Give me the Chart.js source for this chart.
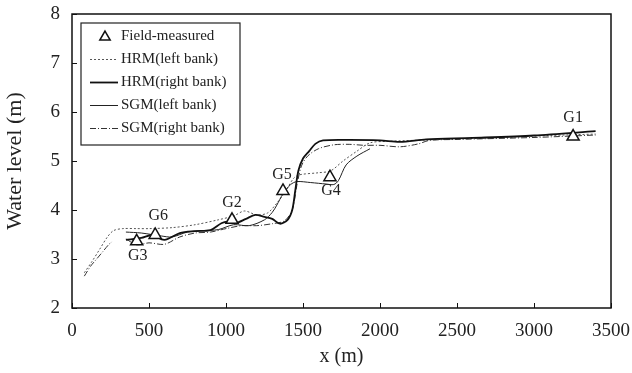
<!DOCTYPE html>
<html>
<head>
<meta charset="utf-8">
<script src="https://cdn.jsdelivr.net/npm/chart.js@4.4.0/dist/chart.umd.min.js"></script>
<style>
  html, body { margin: 0; padding: 0; background: #fff; }
  canvas { display: block; }
</style>
</head>
<body>
<canvas id="chart" width="632" height="373"></canvas>
<script>
// Gauge stations: surveyed water levels
const gaugeNames = ['G1', 'G2', 'G3', 'G4', 'G5', 'G6'];
const gaugeX = [3254, 1039, 420, 1675, 1370, 540];
const gaugeY = [5.50, 3.80, 3.36, 4.67, 4.39, 3.49];

// HRM, left bank
const hrmLeftX = [80, 130, 180, 230, 270, 330, 420, 500, 650, 800, 950, 1050, 1120, 1200, 1270, 1330, 1380, 1440, 1480, 1600, 1680, 1760, 1850, 1935, 2050, 2300, 2700, 3100, 3400];
const hrmLeftY = [2.72, 2.95, 3.20, 3.45, 3.58, 3.62, 3.62, 3.62, 3.64, 3.70, 3.80, 3.88, 3.98, 3.90, 3.94, 4.14, 4.35, 4.65, 4.72, 4.76, 4.80, 5.00, 5.20, 5.37, 5.40, 5.43, 5.47, 5.52, 5.55];

// HRM, right bank
const hrmRightX = [350, 450, 520, 600, 700, 800, 900, 970, 1010, 1060, 1130, 1190, 1250, 1300, 1350, 1400, 1430, 1450, 1470, 1500, 1540, 1580, 1630, 1800, 2000, 2130, 2300, 2600, 3000, 3400];
const hrmRightY = [3.39, 3.43, 3.49, 3.39, 3.53, 3.57, 3.59, 3.73, 3.76, 3.73, 3.82, 3.90, 3.86, 3.82, 3.72, 3.80, 4.00, 4.40, 4.80, 5.05, 5.20, 5.35, 5.42, 5.43, 5.42, 5.39, 5.44, 5.47, 5.52, 5.61];

// SGM, left bank
const sgmLeftX = [350, 450, 580, 650, 750, 850, 950, 1050, 1150, 1250, 1300, 1330, 1370, 1420, 1460, 1550, 1650, 1700, 1730, 1780, 1850, 1935];
const sgmLeftY = [3.55, 3.53, 3.47, 3.45, 3.55, 3.58, 3.60, 3.70, 3.68, 3.80, 3.95, 4.10, 4.33, 4.52, 4.58, 4.56, 4.53, 4.52, 4.60, 4.92, 5.10, 5.25];

// SGM, right bank (null = break in the profile)
const sgmRightX = [80, 120, 160, 200, 240, 260, 300, 350, 420, 500, 600, 700, 800, 900, 1000, 1100, 1200, 1300, 1380, 1430, 1460, 1490, 1530, 1600, 1700, 1800, 1900, 2000, 2130, 2250, 2320, 2500, 3000, 3400];
const sgmRightY = [2.65, 2.85, 3.00, 3.15, 3.30, 3.35, null, 3.41, 3.29, 3.33, 3.30, 3.45, 3.53, 3.55, 3.62, 3.68, 3.68, 3.72, 3.78, 4.00, 4.50, 4.90, 5.10, 5.25, 5.33, 5.34, 5.32, 5.32, 5.29, 5.35, 5.42, 5.44, 5.48, 5.53];

// Axis tick values
const xTicks = [0, 500, 1000, 1500, 2000, 2500, 3000, 3500];
const yTicks = [2, 3, 4, 5, 6, 7, 8];

// Offsets of the station names from their markers (px)
const gaugeLabelOffsets = [[0, -19], [0, -17], [1, 14], [1, 14], [-1, -16], [3, -19]];

const zip = (xs, ys) => xs.map((x, i) => ({ x: x, y: ys[i] }));
const SERIF = '"Liberation Serif", "Times New Roman", serif';

const datasets = [
  {
    label: 'Field-measured',
    data: zip(gaugeX, gaugeY),
    showLine: false,
    pointStyle: 'triangle',
    pointRadius: 7,
    pointBorderWidth: 1.5,
    pointBorderColor: '#111',
    pointBackgroundColor: '#fff',
    order: 0
  },
  {
    label: 'HRM(left bank)',
    data: zip(hrmLeftX, hrmLeftY),
    borderColor: '#555',
    borderWidth: 1,
    borderDash: [2, 2],
    pointRadius: 0,
    tension: 0.3,
    order: 4
  },
  {
    label: 'HRM(right bank)',
    data: zip(hrmRightX, hrmRightY),
    borderColor: '#111',
    borderWidth: 1.8,
    pointRadius: 0,
    tension: 0.3,
    order: 1
  },
  {
    label: 'SGM(left bank)',
    data: zip(sgmLeftX, sgmLeftY),
    borderColor: '#222',
    borderWidth: 1,
    pointRadius: 0,
    tension: 0.3,
    order: 2
  },
  {
    label: 'SGM(right bank)',
    data: zip(sgmRightX, sgmRightY),
    borderColor: '#333',
    borderWidth: 1,
    borderDash: [6, 2, 1, 2],
    pointRadius: 0,
    tension: 0.3,
    spanGaps: false,
    order: 3
  }
];

function triangle(ctx, x, y, r) {
  const a = 2 * Math.PI / 3;
  ctx.beginPath();
  for (let i = 0; i < 3; i++) {
    const ang = i * a;
    const px = x + Math.sin(ang) * r;
    const py = y - Math.cos(ang) * r;
    if (i === 0) ctx.moveTo(px, py); else ctx.lineTo(px, py);
  }
  ctx.closePath();
  ctx.fillStyle = '#fff';
  ctx.fill();
  ctx.lineWidth = 1.5;
  ctx.strokeStyle = '#111';
  ctx.stroke();
}

// Frame, inward ticks, station names and boxed legend
const decorations = {
  id: 'decorations',
  afterDatasetsDraw(chart) {
    const { ctx, chartArea: ca, scales } = chart;
    const xs = scales.x, ys = scales.y;
    ctx.save();

    // plot frame
    ctx.strokeStyle = '#111';
    ctx.lineWidth = 1.5;
    ctx.strokeRect(ca.left, ca.top, ca.right - ca.left, ca.bottom - ca.top);

    // inward tick marks
    ctx.lineWidth = 1;
    ctx.beginPath();
    xTicks.forEach(v => {
      const px = Math.round(xs.getPixelForValue(v)) + 0.5;
      ctx.moveTo(px, ca.bottom);
      ctx.lineTo(px, ca.bottom - 5);
    });
    yTicks.forEach(v => {
      const py = Math.round(ys.getPixelForValue(v)) + 0.5;
      ctx.moveTo(ca.left, py);
      ctx.lineTo(ca.left + 5, py);
    });
    ctx.stroke();

    // station names
    ctx.fillStyle = '#222';
    ctx.font = '16px ' + SERIF;
    ctx.textAlign = 'center';
    ctx.textBaseline = 'middle';
    gaugeNames.forEach((name, i) => {
      const px = xs.getPixelForValue(gaugeX[i]) + gaugeLabelOffsets[i][0];
      const py = ys.getPixelForValue(gaugeY[i]) + gaugeLabelOffsets[i][1];
      ctx.fillText(name, px, py);
    });

    // legend box
    const box = { left: ca.left + 9, top: ca.top + 9, width: 159, height: 122 };
    ctx.fillStyle = '#fff';
    ctx.fillRect(box.left, box.top, box.width, box.height);
    ctx.lineWidth = 1.2;
    ctx.strokeStyle = '#222';
    ctx.strokeRect(box.left, box.top, box.width, box.height);

    ctx.font = '15px ' + SERIF;
    ctx.textAlign = 'left';
    ctx.textBaseline = 'middle';
    const rowH = 23;
    const sx0 = box.left + 9, sx1 = box.left + 37, tx = box.left + 40;
    chart.data.datasets.forEach((ds, i) => {
      const y = box.top + 13 + i * rowH;
      if (ds.showLine === false) {
        triangle(ctx, (sx0 + sx1) / 2 + 1, y + 1, 6);
      } else {
        ctx.beginPath();
        ctx.setLineDash(ds.borderDash || []);
        ctx.lineWidth = ds.borderWidth;
        ctx.strokeStyle = ds.borderColor;
        ctx.moveTo(sx0, y + 0.5);
        ctx.lineTo(sx1, y + 0.5);
        ctx.stroke();
        ctx.setLineDash([]);
      }
      ctx.fillStyle = '#222';
      ctx.fillText(ds.label, tx, y);
    });
    ctx.restore();
  }
};

new Chart(document.getElementById('chart'), {
  type: 'line',
  data: { datasets: datasets },
  plugins: [decorations],
  options: {
    responsive: false,
    animation: false,
    devicePixelRatio: 1,
    layout: { padding: { top: 14, right: 21, left: 0, bottom: 0 } },
    plugins: { legend: { display: false }, tooltip: { enabled: false } },
    scales: {
      x: {
        type: 'linear',
        min: 0,
        max: 3500,
        afterBuildTicks: s => { s.ticks = xTicks.map(v => ({ value: v })); },
        afterFit: s => { s.height = 65; s.paddingLeft = 0; s.paddingRight = 0; },
        grid: { display: false, drawTicks: false },
        border: { display: false },
        ticks: { padding: 12, color: '#222', font: { family: SERIF, size: 19 }, maxRotation: 0, callback: v => String(v) },
        title: { display: true, text: 'x (m)', color: '#222', font: { family: SERIF, size: 20 }, padding: { top: 2, bottom: 4 } }
      },
      y: {
        type: 'linear',
        min: 2,
        max: 8,
        afterBuildTicks: s => { s.ticks = yTicks.map(v => ({ value: v })); },
        afterFit: s => { s.width = 72; s.paddingTop = 0; s.paddingBottom = 0; },
        grid: { display: false, drawTicks: false },
        border: { display: false },
        ticks: { padding: 12, color: '#222', font: { family: SERIF, size: 19 }, callback: v => String(v) },
        title: { display: true, text: 'Water level (m)', color: '#222', font: { family: SERIF, size: 22 }, padding: { top: 2, bottom: 4 } }
      }
    }
  }
});
</script>
</body>
</html>
